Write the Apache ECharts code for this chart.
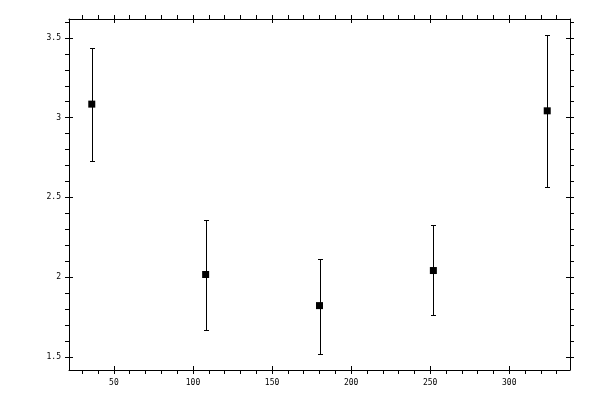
<!DOCTYPE html>
<html>
<head>
<meta charset="utf-8">
<script src="https://cdn.jsdelivr.net/npm/echarts@6/dist/echarts.min.js"></script>
<style>html,body{margin:0;padding:0;background:#fff;}#c{width:600px;height:400px;}</style>
</head>
<body>
<div id="c"></div>
<script>
var xValues = [36, 108, 180, 252, 324];
var yValues = [3.085, 2.016, 1.821, 2.041, 3.043];
var yLow = [2.728, 1.670, 1.519, 1.764, 2.565];
var yHigh = [3.437, 2.355, 2.114, 2.324, 3.519];
var xTicks = [50, 100, 150, 200, 250, 300];
var yTicks = [1.5, 2, 2.5, 3, 3.5];
var xMin = 21.6, xMax = 338.4, yMin = 1.417, yMax = 3.619;

var chart = echarts.init(document.getElementById('c'), null, {renderer: 'canvas'});
var font = 'DejaVu Sans Mono';
var gridRect = {left: 69, right: 30, top: 19, bottom: 30, containLabel: false};

function xAxisDef(pos, grid, inside, labels) {
  return {
    type: 'value', gridIndex: grid, position: pos, min: xMin, max: xMax,
    axisLine: {show: !inside, lineStyle: {color: '#000', width: 1}},
    axisTick: {show: true, inside: inside, length: 4, customValues: xTicks, lineStyle: {color: '#000', width: 1}},
    minorTick: {show: !inside, splitNumber: 5, length: 4, lineStyle: {color: '#000', width: 1}},
    splitLine: {show: false},
    axisLabel: {show: labels, customValues: xTicks, color: '#000', fontFamily: font, fontSize: 8, margin: 9}
  };
}
function yAxisDef(pos, grid, inside, labels) {
  return {
    type: 'value', gridIndex: grid, position: pos, min: yMin, max: yMax,
    axisLine: {show: !inside, lineStyle: {color: '#000', width: 1}},
    axisTick: {show: true, inside: inside, length: 4, customValues: yTicks, lineStyle: {color: '#000', width: 1}},
    minorTick: {show: !inside, splitNumber: 5, length: 4, lineStyle: {color: '#000', width: 1}},
    splitLine: {show: false},
    axisLabel: {show: labels, customValues: yTicks, color: '#000', fontFamily: font, fontSize: 8, margin: 8}
  };
}

var pts = xValues.map(function (x, i) { return [x, yValues[i]]; });
var errs = xValues.map(function (x, i) { return [x, yLow[i], yHigh[i]]; });

chart.setOption({
  animation: false,
  backgroundColor: '#fff',
  grid: [Object.assign({}, gridRect), Object.assign({}, gridRect)],
  xAxis: [
    xAxisDef('bottom', 0, false, true),
    xAxisDef('top', 0, false, false),
    xAxisDef('bottom', 1, true, false),
    xAxisDef('top', 1, true, false)
  ],
  yAxis: [
    yAxisDef('left', 0, false, true),
    yAxisDef('right', 0, false, false),
    yAxisDef('left', 1, true, false),
    yAxisDef('right', 1, true, false)
  ],
  series: [
    {
      type: 'custom', xAxisIndex: 0, yAxisIndex: 0, data: errs,
      encode: {x: 0, y: [1, 2]},
      renderItem: function (params, api) {
        var x = api.value(0);
        var lo = api.coord([x, api.value(1)]);
        var hi = api.coord([x, api.value(2)]);
        var cx = Math.round(lo[0]) + 0.5;
        var yl = Math.round(lo[1]) + 0.5, yh = Math.round(hi[1]) + 0.5;
        var w = 2.5;
        var st = {stroke: '#000', lineWidth: 1, fill: null};
        return {
          type: 'group',
          children: [
            {type: 'line', shape: {x1: cx, y1: yl, x2: cx, y2: yh}, style: st},
            {type: 'line', shape: {x1: cx - w, y1: yl, x2: cx + w, y2: yl}, style: st},
            {type: 'line', shape: {x1: cx - w, y1: yh, x2: cx + w, y2: yh}, style: st}
          ]
        };
      },
      z: 2
    },
    {
      type: 'scatter', xAxisIndex: 0, yAxisIndex: 0, data: pts,
      symbol: 'rect', symbolSize: 7,
      itemStyle: {color: '#000', opacity: 1}, z: 3
    },
    {
      type: 'scatter', xAxisIndex: 2, yAxisIndex: 2, data: [], symbolSize: 0
    }
  ]
});
</script>
</body>
</html>
